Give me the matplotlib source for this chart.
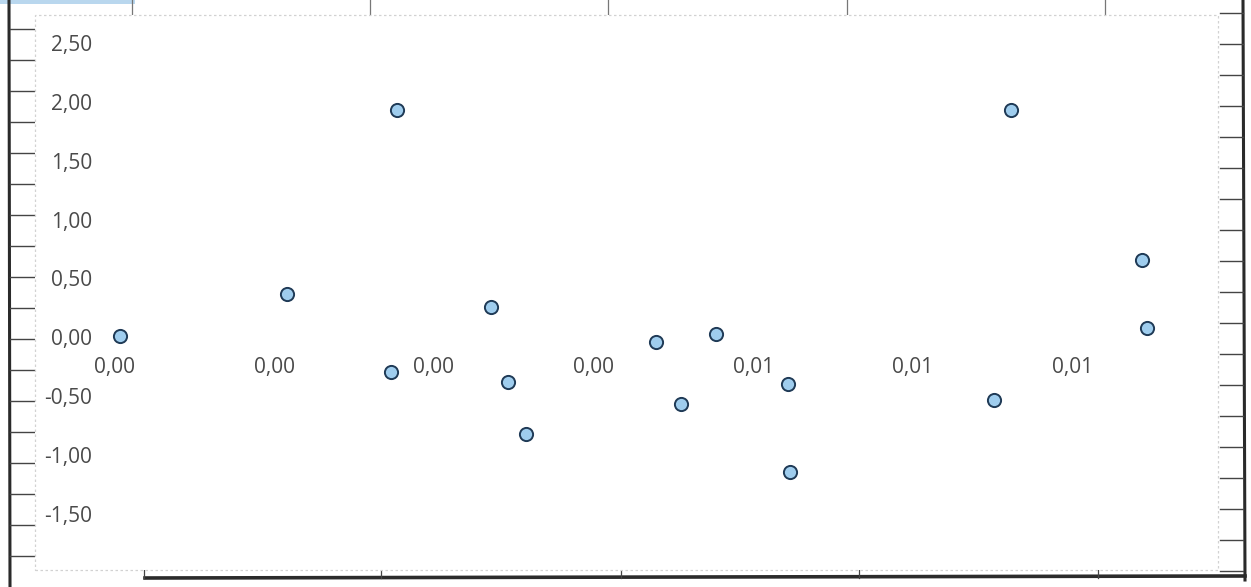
import matplotlib
matplotlib.use("Agg")
import matplotlib.pyplot as plt
from matplotlib.lines import Line2D
from matplotlib.patches import Rectangle
from matplotlib.ticker import FuncFormatter

# values
x_vals = [0.00005, 0.00162, 0.00265, 0.00260, 0.00354, 0.00370, 0.00387, 0.00509,
          0.00532, 0.00565, 0.00633, 0.00635, 0.00826, 0.00842, 0.00966, 0.00970]
y_vals = [0.01, 0.37, 1.93, -0.30, 0.26, -0.38, -0.82, -0.04,
          -0.57, 0.03, -0.40, -1.15, -0.53, 1.93, 0.66, 0.08]
x_ticks = [0.0, 0.0015, 0.003, 0.0045, 0.006, 0.0075, 0.009]
y_ticks = [-1.5, -1.0, -0.5, 0.0, 0.5, 1.0, 1.5, 2.0, 2.5]

W, H = 1251, 587
TXT = "#4a4a4a"
plt.rcParams["font.family"] = ["Open Sans", "DejaVu Sans"]


def comma(v, pos=None):
    # excel style: two decimals, comma separator
    return f"{v:.2f}".replace(".", ",").replace("-0,00", "0,00")


fig = plt.figure(figsize=(W / 100, H / 100), dpi=100)
fig.patch.set_facecolor("white")


def fx(px):
    return px / W


def fy(py):
    return 1 - py / H


def line(x0, y0, x1, y1, lw=1.0, color="#444444"):
    fig.add_artist(Line2D([fx(x0), fx(x1)], [fy(y0), fy(y1)], lw=lw, color=color,
                          transform=fig.transFigure, zorder=0))


# the sheet behind the chart (scan background)
fig.add_artist(Rectangle((0, fy(4)), fx(135), 4 / H, transform=fig.transFigure,
                         color="#b9d7ee", zorder=0, lw=0))
line(9, 0, 10, H, lw=2.2, color="#2a2a2a")
line(1243, 0, 1245, 580, lw=2.2, color="#2a2a2a")
line(145, 578, 1245, 576, lw=2.6, color="#2a2a2a")
for yy in range(29, 580, 31):
    line(10, yy, 34, yy, lw=1.0)
for yy in range(13, 575, 31):
    line(1220, yy, 1243, yy, lw=1.0)
for xx in [144, 381, 621, 859, 1098]:
    line(xx, 570, xx, 578, lw=0.9)
for xx in [132, 370, 608, 847, 1105]:
    line(xx, 0, xx, 14, lw=0.9, color="#777777")

# plot area
left, top, right, bottom = 35, 15, 1218, 570
ax = fig.add_axes([fx(left), fy(bottom), fx(right - left), (bottom - top) / H])
ax.set_facecolor("white")
ax.scatter(x_vals, y_vals, s=90, facecolor="#9fcdee", edgecolor="#1f3a56",
           linewidth=1.4, zorder=3, clip_on=False)

ax.set_xlim(-0.00075, 0.01037)
ax.set_ylim(-1.98, 2.74)
ax.set_xticks(x_ticks)
ax.set_yticks(y_ticks)
ax.xaxis.set_major_formatter(FuncFormatter(comma))
ax.yaxis.set_major_formatter(FuncFormatter(comma))

for s in ax.spines.values():
    s.set_visible(False)
ax.spines["bottom"].set_position(("data", 0))
ax.spines["bottom"].set_visible(True)
ax.spines["bottom"].set_color("none")

ax.tick_params(axis="x", length=0, pad=14, labelsize=15, labelcolor=TXT)
ax.tick_params(axis="y", length=0, pad=-41, labelsize=15, labelcolor=TXT)
ax.add_patch(Rectangle((0, 0), 1, 1, transform=ax.transAxes, fill=False,
                       ec="#d2d2d2", lw=0.9, ls=(0, (2, 2)), clip_on=False))

fig.savefig("out.png", dpi=100)
